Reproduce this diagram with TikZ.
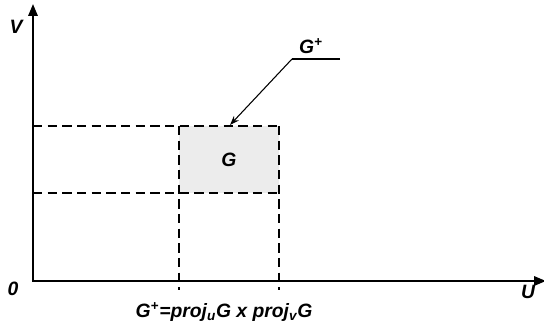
\documentclass[tikz,border=0pt]{standalone}
\usepackage{fontspec}
\setmainfont{Liberation Sans}
\usetikzlibrary{arrows.meta}

\tikzset{
  axis/.style={line width=1.6pt,-{Triangle[length=9pt,width=7pt]}},
  projline/.style={line width=1.1pt,dash pattern=on 7pt off 4pt},
  lbl/.style={font=\bfseries\itshape\fontsize{14.5pt}{17pt}\selectfont,inner sep=0pt}
}

\begin{document}
\begin{tikzpicture}[x=0.75pt,y=-0.75pt]
\useasboundingbox (0,0) rectangle (544,327);
% shaded set G
\fill[gray!15] (179,126) rectangle (279,193);
% projections
\draw[projline] (33,126) -- (279,126);
\draw[projline] (33,193) -- (279,193);
\draw[projline] (179,126) -- (179,290);
\draw[projline] (279,126) -- (279,290);
% axes
\draw[axis] (33,282) -- (33,4);
\draw[axis] (33,281) -- (546,281);
% labels
\node[lbl] (v) at (16,27) {V};
\node[lbl] (o) at (13,289) {0};
\node[lbl] (u) at (528,292) {U};
\node[lbl] (g) at (229,160) {G};
\node[lbl] (gplus) at (311,46) {G\textsuperscript{+}};
\node[lbl] (proj) at (224,312) {G\textsuperscript{+}=proj\textsubscript{u}G x proj\textsubscript{v}G};
% leader to G+
\coordinate (lead) at (292,59);
\coordinate (leadend) at (340,59);
\coordinate (tip) at (230,125);
\draw[line width=0.8pt] (leadend) -- (lead);
\draw[line width=0.8pt,-{Stealth[length=7pt,width=5pt]}] (lead) -- (tip);
\end{tikzpicture}
\end{document}
